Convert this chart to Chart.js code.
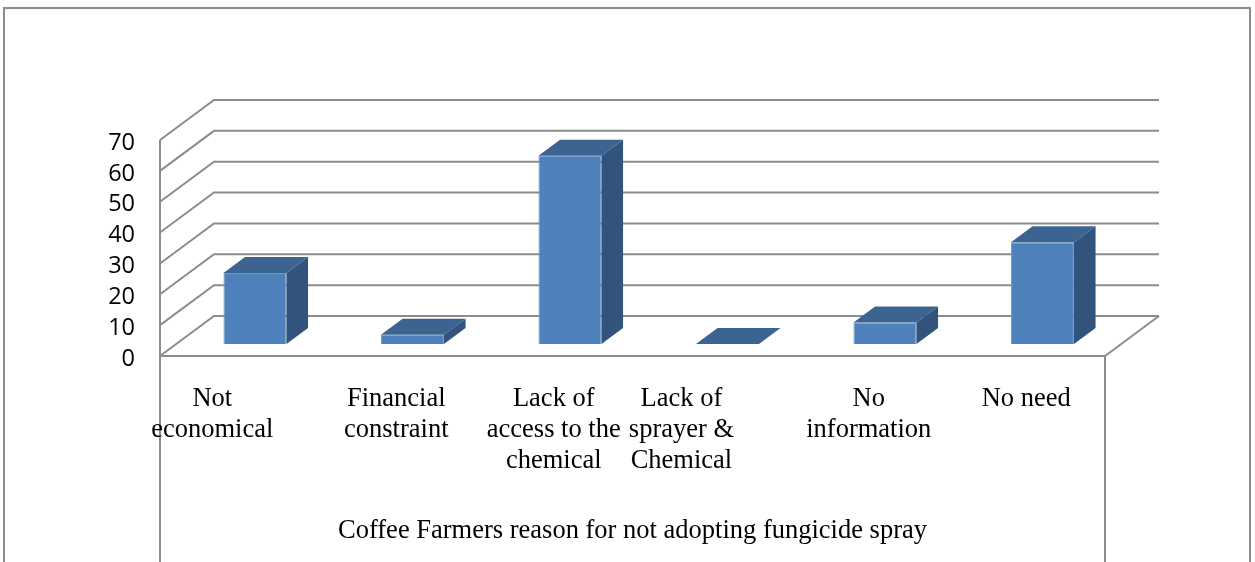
<!DOCTYPE html>
<html>
<head>
<meta charset="utf-8">
<script src="https://cdn.jsdelivr.net/npm/chart.js@4/dist/chart.umd.min.js"></script>
<style>
  html, body { margin: 0; padding: 0; background: #fff; }
  #wrap { width: 1255px; height: 562px; }
</style>
</head>
<body>
<div id="wrap"><canvas id="canvas-1"></canvas></div>
<script>
// reasons given and number of farmers per reason
// (trailing no-break spaces nudge the wrapped labels left like the Excel layout)
const NB = '\u00a0'
const reasons = [
  ['Not' + NB.repeat(8), 'economical' + NB.repeat(8)],
  ['Financial', 'constraint'],
  ['Lack of', 'access to the', 'chemical'],
  ['Lack of' + NB.repeat(9), 'sprayer &' + NB.repeat(9), 'Chemical' + NB.repeat(9)],
  ['No', 'information'],
  ['No need']
]
const farmers = [23, 3, 61, 0, 7, 33]
const yTicks = [0, 10, 20, 30, 40, 50, 60, 70]

// depth of the box drawn behind the plot (x shift, y shift)
const DEPTH_X = 54
const DEPTH_Y = -40
// bars sit between 30% and 70% of the depth
const BAR_FRONT = 0.3
const BAR_DEPTH = 0.4

const gridGrey = '#8c8c8c'
const serif = '"Liberation Serif", "Times New Roman", serif'

const box3d = {
  id: 'box3d',
  beforeDraw(chart) {
    const ctx = chart.ctx
    const a = chart.chartArea
    const y = chart.scales.y
    ctx.save()
    ctx.strokeStyle = gridGrey
    ctx.lineWidth = 2
    // outer frame
    ctx.strokeRect(4, 8, 1246, 600)
    // back wall lines and side wall diagonals
    yTicks.forEach(v => {
      const py = y.getPixelForValue(v)
      ctx.beginPath()
      ctx.moveTo(a.left, py)
      ctx.lineTo(a.left + DEPTH_X, py + DEPTH_Y)
      ctx.lineTo(a.right + DEPTH_X, py + DEPTH_Y)
      ctx.stroke()
    })
    // floor front edge and right edge
    const y0 = y.getPixelForValue(0)
    ctx.beginPath()
    ctx.moveTo(a.left, y0)
    ctx.lineTo(a.right, y0)
    ctx.lineTo(a.right + DEPTH_X, y0 + DEPTH_Y)
    ctx.stroke()
    // left axis line, carried down through the category box
    ctx.beginPath()
    ctx.moveTo(a.left, y.getPixelForValue(70))
    ctx.lineTo(a.left, 562)
    ctx.moveTo(a.right, y0)
    ctx.lineTo(a.right, 562)
    ctx.stroke()
    ctx.restore()
  },
  beforeDatasetsDraw(chart) {
    chart.ctx.save()
    chart.ctx.translate(DEPTH_X * BAR_FRONT, DEPTH_Y * BAR_FRONT)
  },
  afterDatasetsDraw(chart) {
    const ctx = chart.ctx
    const dx = DEPTH_X * BAR_DEPTH
    const dy = DEPTH_Y * BAR_DEPTH
    chart.getDatasetMeta(0).data.forEach(bar => {
      const p = bar.getProps(['x', 'y', 'base', 'width'], true)
      const l = p.x - p.width / 2
      const r = p.x + p.width / 2
      // top face
      ctx.fillStyle = '#3c6491'
      ctx.beginPath()
      ctx.moveTo(l, p.y)
      ctx.lineTo(l + dx, p.y + dy)
      ctx.lineTo(r + dx, p.y + dy)
      ctx.lineTo(r, p.y)
      ctx.closePath()
      ctx.fill()
      // side face
      if (p.base - p.y > 0) {
        ctx.fillStyle = '#32537c'
        ctx.beginPath()
        ctx.moveTo(r, p.y)
        ctx.lineTo(r + dx, p.y + dy)
        ctx.lineTo(r + dx, p.base + dy)
        ctx.lineTo(r, p.base)
        ctx.closePath()
        ctx.fill()
      }
    })
    ctx.restore()
  }
}

const chart = new Chart(document.getElementById('canvas-1'), {
  type: 'bar',
  data: {
    labels: reasons,
    datasets: [{
      data: farmers,
      backgroundColor: '#4f81bd',
      borderColor: '#6d97cb',
      borderWidth: 1,
      barPercentage: 1,
      categoryPercentage: 0.4
    }]
  },
  options: {
    responsive: true,
    maintainAspectRatio: false,
    animation: false,
    layout: { padding: { left: 0, top: 140, right: 150, bottom: 0 } },
    plugins: {
      legend: { display: false },
      tooltip: { enabled: false }
    },
    scales: {
      x: {
        grid: { display: false, drawTicks: false },
        border: { display: false },
        ticks: {
          color: '#000',
          padding: 28,
          maxRotation: 0,
          autoSkip: false,
          font: { family: serif, size: 26.5, lineHeight: 1.17 }
        },
        title: {
          display: true,
          text: 'Coffee Farmers reason for not adopting fungicide spray',
          color: '#000',
          padding: { top: 0, bottom: 15 },
          font: { family: serif, size: 26.5, lineHeight: 1.2 }
        },
        afterFit(scale) { scale.height = 206 }
      },
      y: {
        min: 0,
        max: 70,
        grid: { display: false, drawTicks: false },
        border: { display: false },
        ticks: {
          stepSize: 10,
          autoSkip: false,
          color: '#000',
          padding: 25,
          labelOffset: 3,
          font: { family: '"Open Sans", "Liberation Sans", sans-serif', size: 23.5, lineHeight: 1 }
        },
        afterFit(scale) { scale.width = 160 }
      }
    }
  },
  plugins: [box3d]
})
</script>
</body>
</html>
